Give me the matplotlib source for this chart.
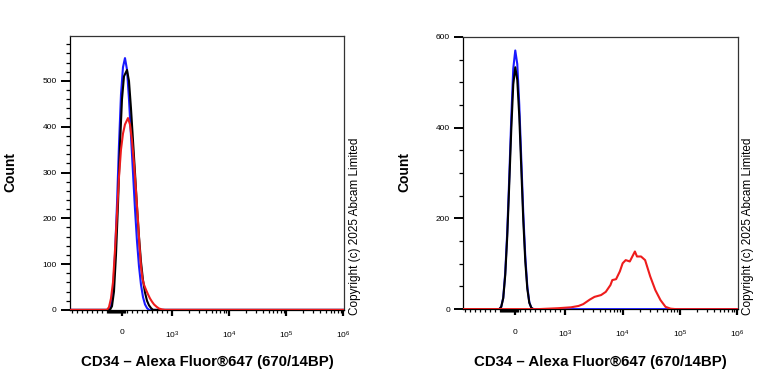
import numpy as np
import matplotlib
matplotlib.use("Agg")
import matplotlib.pyplot as plt

plt.rcParams['font.family'] = ['Liberation Sans', 'DejaVu Sans']
plt.rcParams['mathtext.default'] = 'regular'

# ---- data (fluorescence value, count) ----
XMIN, XMAX = -1084, 1.04e6

# left panel
left_blue_x = [XMIN, -260, -220, -180, -140, -100, -60, -20, 20, 60, 100, 140, 180, 220,
               260, 300, 340, 380, 420, 460, 500, 540, XMAX]
left_blue_y = [0, 0, 8, 40, 120, 230, 360, 470, 530, 550, 525, 460, 380, 300,
               220, 150, 95, 55, 28, 12, 4, 0, 0]

left_black_x = [XMIN, -240, -200, -160, -120, -80, -40, 0, 40, 100, 140, 180, 220, 260,
                300, 340, 380, 420, 460, 500, 540, 580, 620, XMAX]
left_black_y = [0, 0, 8, 40, 120, 230, 360, 460, 510, 524, 500, 440, 370, 300,
                225, 160, 105, 65, 38, 20, 10, 4, 0, 0]

left_red_x = [XMIN, -300, -260, -220, -180, -140, -100, -60, -20, 20, 60, 120, 160, 200,
              240, 280, 320, 350, 380, 410, 440, 480, 520, 560, 600, 640, 690, 740,
              800, 860, XMAX]
left_red_y = [0, 0, 6, 25, 60, 130, 210, 290, 350, 385, 405, 419, 405, 370,
              320, 260, 195, 140, 95, 68, 55, 44, 34, 25, 18, 12, 7, 3,
              1, 0, 0]

# right panel
right_blue_x = [XMIN, -320, -280, -240, -200, -160, -120, -80, -40, 0, 40, 80, 120, 160,
                200, 240, 280, 320, 360, XMAX]
right_blue_y = [0, 0, 5, 25, 80, 170, 290, 420, 530, 570, 540, 450, 330, 210,
                115, 50, 15, 3, 0, 0]

right_black_x = [XMIN, -320, -280, -240, -200, -160, -120, -80, -40, 0, 40, 80, 120, 160,
                 200, 240, 280, 320, 360]
right_black_y = [0, 0, 5, 24, 75, 160, 275, 395, 495, 533, 505, 425, 310, 195,
                 105, 45, 14, 3, 0]

right_red_x = [XMIN, 458, 854, 1254, 1698, 2047, 2666, 3222, 4200, 5070, 6120, 6600, 7680,
               8930, 10000, 11310, 13340, 16380, 17800, 20950, 24700, 30350, 37250,
               45800, 56200, 69000, 84800, XMAX]
right_red_y = [0, 0, 2, 4, 7, 11, 21, 27, 31, 38, 53, 64, 66,
               83, 101, 108, 105, 127, 116, 116, 108, 72, 42,
               20, 5, 1, 0, 0]

x_major = [0, 1e3, 1e4, 1e5, 1e6]
x_labels = ['0', '$10^3$', '$10^4$', '$10^5$', '$10^6$']
xlabel = 'CD34 \u2013 Alexa Fluor\u00ae647 (670/14BP)'
copyright = 'Copyright (c) 2025 Abcam Limited'

fig = plt.figure(figsize=(7.68, 3.84), dpi=100)


def style_axes(ax, ymax, ymajor, yminor):
    ax.set_xscale('symlog', linthresh=1000, linscale=0.789)
    ax.set_xlim(XMIN, XMAX)
    ax.set_ylim(0, ymax)

    # flow-style minor ticks: negative range, dense block near zero, linear part, decades
    minors = list(range(-1000, -350, 100)) + list(range(-300, 61, 20)) + list(range(100, 1000, 100))
    for k in (3, 4, 5):
        minors += [m * 10 ** k for m in range(2, 10)]
    ax.set_xticks(x_major)
    ax.set_xticklabels(x_labels)
    ax.set_xticks(minors, minor=True)
    ax.set_yticks(ymajor)
    ax.set_yticks(yminor, minor=True)

    ax.tick_params(axis='x', which='major', direction='out', length=4, width=1.6,
                   labelsize=6, pad=10)
    ax.tick_params(axis='x', which='minor', direction='out', length=2.5, width=0.9)
    ax.tick_params(axis='y', which='major', direction='out', length=6.5, width=1.4,
                   labelsize=6, pad=3)
    ax.tick_params(axis='y', which='minor', direction='out', length=3, width=0.9)
    for s in ax.spines.values():
        s.set_linewidth(0.9)
        s.set_color('#333333')
    ax.spines['left'].set_color('black')
    ax.spines['bottom'].set_color('black')


ax1 = fig.add_axes([0.0911, 0.193, 0.357, 0.713])
ax1.plot(left_blue_x, left_blue_y, color='#1a1aff', lw=1.5, zorder=3)
ax1.plot(left_black_x, left_black_y, color='black', lw=1.5, zorder=3)
ax1.plot(left_red_x, left_red_y, color='#ee1c1c', lw=1.5, zorder=3)
style_axes(ax1, 598, list(range(0, 501, 100)), list(range(0, 590, 20)))

ax2 = fig.add_axes([0.603, 0.195, 0.358, 0.709])
ax2.plot(right_blue_x, right_blue_y, color='#1a1aff', lw=1.5, zorder=3)
ax2.plot(right_black_x, right_black_y, color='black', lw=1.5, zorder=3)
ax2.plot(right_red_x, right_red_y, color='#ee1c1c', lw=1.5, zorder=3)
style_axes(ax2, 600, list(range(0, 601, 200)), list(range(0, 601, 50)))

for xc, cx, yl in ((207 / 768, 355 / 768, 10 / 768),
                   (600 / 768, 748 / 768, 404 / 768)):
    fig.text(xc, 1 - 362 / 384, xlabel, ha='center', va='center',
             fontsize=10.8, fontweight='bold')
    fig.text(yl, 1 - 172 / 384, 'Count', ha='center', va='center', rotation=90,
             fontsize=10, fontweight='bold')
    fig.text(cx, 1 - 315 / 384, copyright, ha='center', va='bottom', rotation=90,
             fontsize=8.5)

fig.savefig('out.png', dpi=100)
